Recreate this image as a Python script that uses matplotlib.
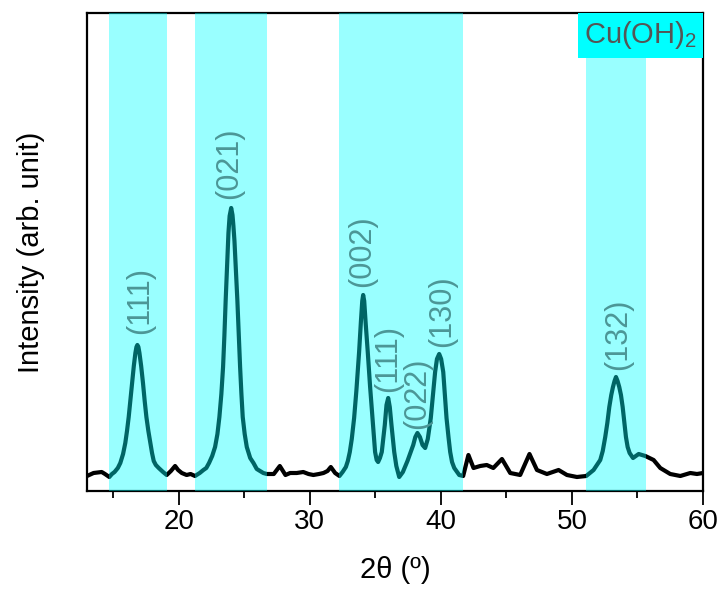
import matplotlib
matplotlib.use("Agg")
import matplotlib.pyplot as plt
from matplotlib.patches import Rectangle

plt.rcParams['font.family'] = ['Liberation Sans', 'DejaVu Sans']
plt.rcParams['mathtext.fontset'] = 'custom'
plt.rcParams['mathtext.rm'] = 'Liberation Sans'

# XRD pattern (2theta in degrees, intensity in arb. units)
two_theta = [13.0, 13.5, 14.12, 14.37, 14.7,
             14.9, 15.1, 15.35, 15.54, 15.75, 15.92, 16.05, 16.18, 16.3, 16.44,
             16.57, 16.69, 16.77, 16.84, 16.92, 17.0, 17.13, 17.27, 17.4, 17.53,
             17.68, 17.83, 17.96, 18.09, 18.25, 18.47, 18.8, 19.08,
             19.4, 19.72, 19.95, 20.23, 20.6, 20.9, 21.24,
             21.6, 21.88, 22.1, 22.31, 22.55, 22.77, 22.95, 23.1, 23.25, 23.38,
             23.48, 23.58, 23.7, 23.79, 23.88, 24.0, 24.1, 24.17, 24.25, 24.36,
             24.47, 24.58, 24.68, 24.78, 24.88, 25.03, 25.19, 25.45, 25.7, 25.95,
             26.2, 26.45, 26.72,
             27.25, 27.71, 28.14, 28.5, 29.0, 29.5, 29.9, 30.27, 30.7, 31.04,
             31.35, 31.6, 31.93, 32.26,
             32.5, 32.75, 32.9, 33.05, 33.2, 33.38, 33.55, 33.76, 33.9, 34.0,
             34.07, 34.15, 34.26, 34.42, 34.6, 34.78, 34.98, 35.1, 35.21, 35.35,
             35.49, 35.6, 35.72, 35.85, 35.98, 36.1, 36.23, 36.44, 36.6, 36.82,
             37.1, 37.45, 37.89, 38.05, 38.21, 38.4, 38.6, 38.8, 39.0, 39.23,
             39.4, 39.56, 39.7, 39.87, 40.02, 40.18, 40.3, 40.43, 40.58, 40.71,
             40.85, 41.02, 41.4, 41.7,
             42.1, 42.49, 43.0, 43.5, 44.0, 44.66, 45.29, 46.05, 46.76, 47.33,
             48.09, 48.98, 49.62, 50.38, 51.09,
             51.65, 52.16, 52.35, 52.54, 52.7, 52.85, 53.0, 53.13, 53.25, 53.36,
             53.48, 53.61, 53.74, 53.87, 54.0, 54.12, 54.25, 54.4, 54.66, 55.09,
             55.6, 56.23, 56.74, 57.5, 58.27, 59.03, 59.54, 60.0]
intensity = [15, 18, 19, 17, 14,
             17, 19, 23, 28, 37, 48, 60, 74, 90, 108,
             125, 138, 144, 146, 144, 138, 125, 108, 90, 74,
             60, 48, 38, 30, 26, 23, 19, 16,
             20, 25, 21, 18, 16, 17, 15,
             18, 21, 23, 28, 35, 44, 57, 74, 97, 124,
             155, 191, 230, 258, 275, 283, 276, 265, 250, 220,
             191, 155, 124, 97, 74, 57, 44, 33, 28, 22,
             20, 18, 17,
             17, 25, 16, 18, 18, 19, 17, 16, 17, 18,
             20, 24, 18, 15,
             19, 24, 30, 39, 52, 73, 100, 139, 170, 190,
             196, 190, 168, 139, 104, 73, 39, 31, 29, 33,
             39, 52, 66, 86, 93, 84, 66, 39, 25, 14,
             19, 30, 46, 54, 58, 54, 46, 43, 52, 73,
             97, 119, 132, 137, 132, 119, 97, 73, 54, 39,
             29, 23, 16, 15,
             36, 23, 25, 26, 23, 32, 18, 16, 37, 21,
             17, 21, 16, 14, 15,
             21, 31, 40, 54, 68, 84, 96, 104, 110, 114,
             110, 104, 96, 84, 68, 54, 44, 38, 33, 37,
             35, 31, 23, 17, 15, 18, 17, 18]

# shaded Cu(OH)2 reflection regions (2theta ranges)
band_lo = [14.68, 21.24, 32.24, 51.1]
band_hi = [19.1, 26.74, 41.7, 55.65]

# Miller index labels: text, 2theta, label centre height
hkl_text = ['(111)', '(021)', '(002)', '(111)', '(022)', '(130)', '(132)']
hkl_x = [17.05, 23.84, 34.0, 35.98, 38.19, 40.07, 53.53]
hkl_y = [190, 328, 240, 132, 98, 180, 157]

fig = plt.figure(figsize=(7.24, 5.9), dpi=100)
ax = fig.add_axes([0.1202, 0.1678, 0.8508, 0.8102])

ax.plot(two_theta, intensity, color='black', lw=3.0, solid_joinstyle='round', zorder=2)

for lo, hi in zip(band_lo, band_hi):
    ax.axvspan(lo, hi, color='cyan', alpha=0.4, lw=0, zorder=3)

for t, x, y in zip(hkl_text, hkl_x, hkl_y):
    ax.text(x, y, t, rotation=90, ha='center', va='center', fontsize=22,
            color='#4c9696', zorder=4)

# legend-style tag in the top right corner
ax.add_patch(Rectangle((0.7966, 0.906), 0.2029, 0.094, transform=ax.transAxes,
                       facecolor='#00ffff', edgecolor='none', zorder=5, clip_on=False))
ax.text(0.898, 0.953, 'Cu(OH)$_2$', transform=ax.transAxes, ha='center', va='center',
        fontsize=21, color='#555555', zorder=6)

ax.set_xlim(13, 60)
ax.set_ylim(0, 478)
ax.set_xticks([20, 30, 40, 50, 60])
ax.set_xticks([15, 25, 35, 45, 55], minor=True)
ax.set_yticks([])
ax.tick_params(axis='x', which='major', direction='out', length=10, width=1.3,
               labelsize=20, pad=3)
ax.tick_params(axis='x', which='minor', direction='out', length=5, width=1.3)
for sp in ax.spines.values():
    sp.set_linewidth(1.6)

ax.set_xlabel('2θ (º)', fontsize=21, labelpad=15)
ax.set_ylabel('Intensity (arb. unit)', fontsize=21, labelpad=30)

fig.savefig('out.png', dpi=100)
